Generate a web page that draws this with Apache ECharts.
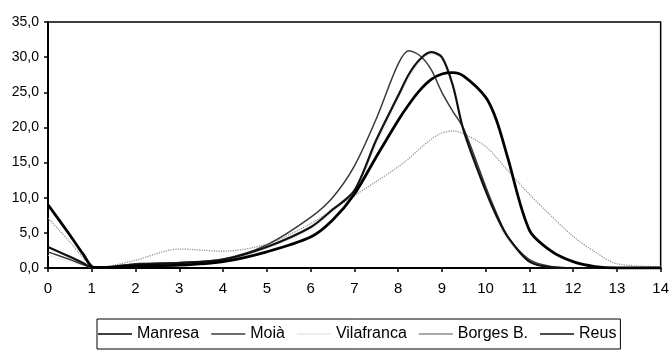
<!DOCTYPE html>
<html>
<head>
<meta charset="utf-8">
<script src="https://cdn.jsdelivr.net/npm/echarts@6/dist/echarts.min.js"></script>
<style>
  html, body {margin: 0; padding: 0; background: #fff;}
  #chart {width: 672px; height: 359px;}
</style>
</head>
<body>
<div id="chart"></div>
<script>
// x positions (same for every series)
let xs = [0, 0.5, 0.8, 1.05, 1.5, 2, 3, 4, 5, 6, 6.5, 7, 7.5, 8, 8.25, 8.5, 8.75, 9, 9.25, 9.5, 10, 10.25, 10.5, 11, 11.5, 12, 12.5, 13, 14]

let manresa = [9.0, 4.7, 2.0, 0.1, 0.1, 0.3, 0.4, 0.9, 2.3, 4.4, 6.8, 10.5, 15.8, 21.0, 23.3, 25.3, 26.8, 27.6, 27.8, 27.3, 24.3, 21.0, 15.8, 5.4, 2.4, 0.9, 0.2, 0, 0]
let moia = [2.3, 1.2, 0.5, 0, 0.2, 0.6, 0.8, 1.3, 3.3, 7.2, 10.0, 14.5, 21.2, 29.0, 30.9, 30.2, 28.3, 25.0, 22.3, 19.8, 11.6, 7.8, 4.5, 1.2, 0.2, 0, 0, 0, 0]
let vilafranca = [1.8, 0.9, 0.4, 0, 0.1, 0.4, 0.6, 1.1, 2.8, 5.5, 8.0, 10.8, 17.5, 24.0, 27.0, 29.3, 30.4, 29.8, 26.0, 19.5, 10.8, 7.0, 4.0, 0.9, 0.1, 0, 0, 0, 0]
let borges = [7.1, 3.7, 1.5, 0.1, 0.4, 1.1, 2.7, 2.4, 3.4, 6.3, 8.3, 10.3, 12.3, 14.4, 15.6, 17.0, 18.3, 19.2, 19.5, 19.1, 17.3, 15.7, 13.9, 10.5, 7.4, 4.5, 2.3, 0.6, 0.2]
let reus = [3.0, 1.6, 0.7, 0, 0.2, 0.5, 0.7, 1.2, 3.0, 5.8, 8.3, 11.0, 18.2, 24.5, 27.6, 29.7, 30.7, 30.0, 26.0, 19.5, 11.0, 7.4, 4.5, 0.9, 0.1, 0, 0, 0, 0]

let names = ['Manresa', 'Moià', 'Vilafranca', 'Borges B.', 'Reus']

var font = "'Liberation Sans', Arial, sans-serif"

function pts(arr) {
    return xs.map((x, i) => [x, arr[i]])
}

function line(name, arr, color, width, type, z) {
    return {
        name: name,
        type: 'line',
        data: pts(arr),
        smooth: 0.3,
        symbol: 'none',
        z: z,
        lineStyle: {color: color, width: width, type: type},
        itemStyle: {color: color}
    }
}

var chart = echarts.init(document.getElementById('chart'), null, {renderer: 'canvas'})
chart.setOption({
    animation: false,
    backgroundColor: '#fff',
    grid: {
        left: 48, right: 9, top: 22, bottom: 91,
        show: true, borderColor: '#000', borderWidth: 1.5
    },
    xAxis: {
        type: 'value',
        min: 0, max: 14, interval: 1,
        axisLine: {lineStyle: {color: '#000', width: 2}},
        axisTick: {length: 4, lineStyle: {color: '#000', width: 1.5}},
        axisLabel: {color: '#000', fontSize: 15, fontFamily: font, margin: 13},
        splitLine: {show: false}
    },
    yAxis: {
        type: 'value',
        min: 0, max: 35, interval: 5,
        axisLine: {show: true, lineStyle: {color: '#000', width: 2}},
        axisTick: {show: true, length: 4, lineStyle: {color: '#000', width: 1.5}},
        axisLabel: {
            color: '#000', fontSize: 14, fontFamily: font, margin: 9,
            formatter: v => v.toFixed(1).replace('.', ',')
        },
        splitLine: {show: false}
    },
    legend: {
        data: names,
        left: 97, top: 319,
        icon: 'path://M0,0 L40,0 L40,2 L0,2 Z',
        itemWidth: 34, itemHeight: 10, itemGap: 12,
        borderColor: '#000', borderWidth: 1,
        padding: [7, 4, 7, 1],
        textStyle: {color: '#000', fontSize: 16, fontFamily: font}
    },
    series: [
        line('Manresa', manresa, '#000', 2.8, 'solid', 6),
        line('Moià', moia, '#3a3a3a', 1.5, 'solid', 4),
        line('Vilafranca', vilafranca, '#e6e6e6', 1, 'solid', 2),
        line('Borges B.', borges, '#8c8c8c', 1.2, 'dotted', 3),
        line('Reus', reus, '#111', 2.2, 'solid', 5)
    ]
})
</script>
</body>
</html>
